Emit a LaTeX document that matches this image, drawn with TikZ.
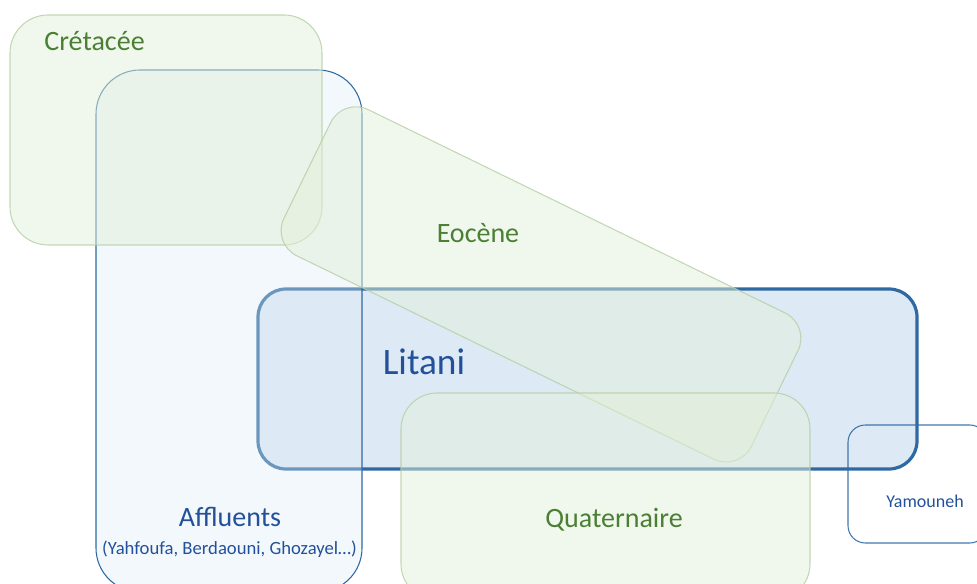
\documentclass[tikz,border=0pt]{standalone}
\usepackage{fontspec}
\setmainfont{Carlito}
\definecolor{litfill}{HTML}{DDEAF6}
\definecolor{litdraw}{HTML}{2E6AA1}
\definecolor{bluethin}{HTML}{2E6AA1}
\definecolor{affill}{HTML}{DEEBF7}
\definecolor{grfill}{HTML}{E2EFD9}
\definecolor{grdraw}{HTML}{B5CFA3}
\definecolor{grtext}{HTML}{4A7F34}
\definecolor{bltext}{HTML}{22519A}
\begin{document}
\begin{tikzpicture}[x=0.75pt,y=-0.75pt,
  litbox/.style={rectangle, draw=litdraw, line width=2.4pt, fill=litfill, rounded corners=21pt},
  bluebox/.style={rectangle, draw=bluethin, line width=0.8pt, fill=affill, fill opacity=0.35, draw opacity=1},
  openbox/.style={rectangle, draw=bluethin, line width=0.8pt, draw opacity=0.9},
  greenbox/.style={rectangle, draw=grdraw, line width=0.8pt, draw opacity=0.8, fill=grfill, fill opacity=0.5},
  gtext/.style={anchor=base, text=grtext, inner sep=0pt},
  btext/.style={anchor=base, text=bltext, inner sep=0pt}]
\useasboundingbox (0,0) rectangle (977,584);
\clip (0,0) rectangle (977,584);
% Litani (bottom layer)
\node[litbox, minimum width=494.25pt, minimum height=135pt] (litani) at (587.5,379) {};
% Yamouneh
\node[openbox, rounded corners=13pt, minimum width=104.25pt, minimum height=88.5pt] (yam) at (917.5,484) {};
% Affluents
\node[bluebox, rounded corners=33pt, minimum width=199.5pt, minimum height=391.5pt] (aff) at (229,331) {};
% Cretacee
\node[greenbox, rounded corners=28.5pt, minimum width=234pt, minimum height=172.5pt] (cret) at (166,130) {};
% Eocene (rotated)
\node[greenbox, rounded corners=21pt, minimum width=390pt, minimum height=122pt, rotate=-26] (eoc) at (541,284.4) {};
% Quaternaire
\node[greenbox, rounded corners=27pt, minimum width=306.75pt, minimum height=155.25pt] (quat) at (605.5,496.5) {};
% Texts
\node[gtext, font=\fontsize{21}{25}\selectfont] (tcret) at (94.5,51) {Crétacée};
\node[gtext, font=\fontsize{21}{25}\selectfont] (teoc) at (478,243) {Eocène};
\node[btext, font=\fontsize{28}{33}\selectfont] (tlit) at (424,374) {Litani};
\node[btext, font=\fontsize{21}{25}\selectfont] (taff) at (230,526) {Affluents};
\node[btext, font=\fontsize{14}{17}\selectfont] (taff2) at (229.5,554) {(Yahfoufa, Berdaouni, Ghozayel…)};
\node[gtext, font=\fontsize{21}{25}\selectfont] (tquat) at (614,527) {Quaternaire};
\node[btext, font=\fontsize{13.5}{16}\selectfont] (tyam) at (925,507) {Yamouneh};
\end{tikzpicture}
\end{document}
